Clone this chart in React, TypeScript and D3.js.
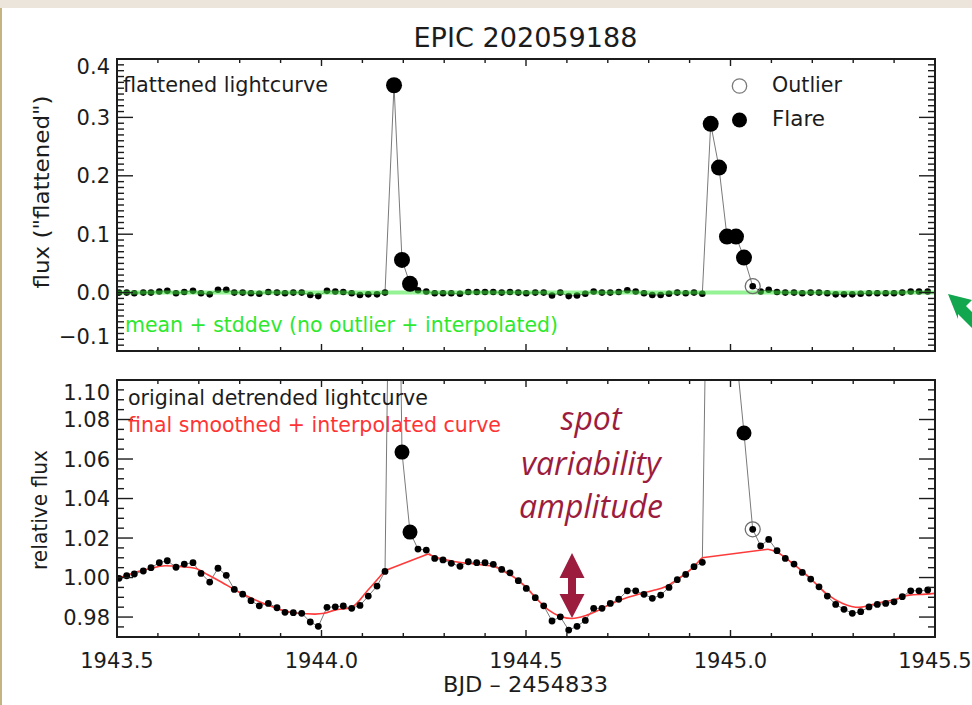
import React from 'react';
import * as d3 from 'd3';

// ---- data ----
const TIME = [
  1943.5049, 1943.5237, 1943.5423, 1943.5643, 1943.5831, 1943.6034, 1943.623, 1943.6443, 1943.6645, 1943.6858,
  1943.7054, 1943.7267, 1943.7469, 1943.7672, 1943.7868, 1943.8073, 1943.8276, 1943.8479, 1943.8699, 1943.8912,
  1943.9108, 1943.9311, 1943.9516, 1943.9726, 1943.9922, 1944.0134, 1944.0337, 1944.0533, 1944.0738, 1944.0941,
  1944.1144, 1944.1357, 1944.1553, 1944.1773, 1944.1968, 1944.2164, 1944.2359, 1944.2562, 1944.2768, 1944.2971,
  1944.3174, 1944.3386, 1944.3589, 1944.3795, 1944.3998, 1944.42, 1944.4406, 1944.4609, 1944.4812, 1944.5007,
  1944.5227, 1944.5433, 1944.5636, 1944.5839, 1944.6044, 1944.6247, 1944.645, 1944.6655, 1944.6858, 1944.7061,
  1944.7267, 1944.7477, 1944.7682, 1944.7885, 1944.8088, 1944.8293, 1944.8496, 1944.8699, 1944.8905, 1944.9108,
  1944.9311, 1944.9516, 1944.9719, 1944.9914, 1945.0134, 1945.033, 1945.0543, 1945.0738, 1945.0934, 1945.1137,
  1945.134, 1945.1553, 1945.1756, 1945.1961, 1945.2164, 1945.2367, 1945.2572, 1945.2775, 1945.2978, 1945.3183,
  1945.3386, 1945.3589, 1945.3795, 1945.3998, 1945.42, 1945.4406, 1945.4609, 1945.4822,
];

const FLUX_REL = [
  0.9996, 1.0009, 1.0018, 1.0033, 1.005, 1.0075, 1.0085, 1.0052, 1.0068, 1.0075,
  1.0021, 0.9977, 1.0047, 1.0011, 0.994, 0.9916, 0.9883, 0.9857, 0.9869, 0.9847,
  0.9824, 0.9822, 0.9819, 0.9775, 0.9753, 0.9849, 0.9852, 0.9856, 0.9844, 0.9859,
  0.9906, 0.9957, 1.0031, 1.36, 1.0635, 1.023, 1.0144, 1.0139, 1.0097, 1.0089,
  1.0072, 1.0057, 1.008, 1.0075, 1.0075, 1.0067, 1.0041, 1.0024, 0.9984, 0.9945,
  0.9898, 0.9857, 0.978, 0.9801, 0.9734, 0.9753, 0.9783, 0.9844, 0.9844, 0.9869,
  0.989, 0.9933, 0.9933, 0.9915, 0.9895, 0.9911, 0.995, 0.9989, 1.0016, 1.0055,
  1.0077, 1.3, 1.23, 1.11, 1.115, 1.0732, 1.0244, 1.016, 1.0193, 1.0136,
  1.0097, 1.0068, 1.0026, 0.9992, 0.9953, 0.9906, 0.9864, 0.9839, 0.9819, 0.9827,
  0.9851, 0.9864, 0.9869, 0.9877, 0.9903, 0.9933, 0.9933, 0.9937,
];

const FLUX_FLAT = [
  0.0, 0.0, -0.001, 0.0, 0.0, 0.002, 0.003, -0.001, 0.001, 0.003,
  -0.001, -0.003, 0.005, 0.005, 0.0, 0.0, -0.001, -0.002, 0.001, 0.0,
  -0.001, 0.0, 0.0, -0.004, -0.006, 0.003, 0.002, 0.001, -0.001, -0.004,
  -0.003, -0.003, 0.0, 0.355, 0.056, 0.015, 0.004, 0.002, -0.001, -0.001,
  -0.001, -0.002, 0.001, 0.001, 0.001, 0.001, 0.0, 0.001, 0.0, -0.001,
  0.0, 0.0, -0.005, 0.0, -0.006, -0.005, -0.002, 0.002, 0.0, 0.0,
  0.001, 0.004, 0.002, -0.001, -0.004, -0.004, -0.002, 0.0, -0.001, 0.0,
  -0.002, 0.289, 0.214, 0.096, 0.096, 0.06, 0.011, 0.002, 0.005, 0.001,
  0.0, 0.0, -0.001, 0.0, 0.0, -0.001, -0.003, -0.003, -0.003, -0.002,
  -0.001, -0.001, -0.001, -0.001, 0.0, 0.002, 0.002, 0.002,
];

const FLARE_IDX = [33, 34, 35, 71, 72, 73, 74, 75];
const OUTLIER_IDX = [76];

const SMOOTH_T = [
  1943.5, 1943.5359, 1943.5765, 1943.6174, 1943.6582, 1943.6907, 1943.7232, 1943.756, 1943.7885, 1943.821,
  1943.8619, 1943.9027, 1943.9433, 1943.9841, 1944.0069, 1944.0323, 1944.0729, 1944.1137, 1944.1545, 1944.2604,
  1944.2768, 1944.3174, 1944.3582, 1944.399, 1944.4235, 1944.4479, 1944.4804, 1944.5049, 1944.5227, 1944.5555,
  1944.58, 1944.6125, 1944.645, 1944.6778, 1944.7103, 1944.7428, 1944.7756, 1944.8081, 1944.8406, 1944.8734,
  1944.9059, 1944.9303, 1945.0917, 1945.1112, 1945.152, 1945.1927, 1945.2335, 1945.2743, 1945.3149, 1945.3557,
  1945.3966, 1945.4372, 1945.478, 1945.5,
];
const SMOOTH_F = [
  0.9994, 1.0021, 1.0043, 1.006, 1.0055, 1.0047, 1.0013, 0.9976, 0.9937, 0.9903,
  0.9866, 0.9835, 0.9819, 0.9815, 0.9819, 0.9835, 0.9849, 0.9937, 1.0034, 1.0119,
  1.0105, 1.0084, 1.0072, 1.0063, 1.0055, 1.0029, 0.9987, 0.9942, 0.99, 0.9835,
  0.9807, 0.9793, 0.9807, 0.9835, 0.9869, 0.9895, 0.9915, 0.9933, 0.9953, 0.9996,
  1.0047, 1.01, 1.0143, 1.0131, 1.0072, 1.0001, 0.992, 0.9869, 0.9849, 0.9869,
  0.9886, 0.9911, 0.9916, 0.992,
];
// knot index ranges of the smoothed curve; between them the curve is a straight interpolation over the flares
const SMOOTH_PIECES = [
  [0, 18],
  [19, 41],
  [42, 53],
];

const X_MAJOR = [1943.5, 1944.0, 1944.5, 1945.0, 1945.5];
const X_LABELS = ['1943.5', '1944.0', '1944.5', '1945.0', '1945.5'];
const YT_MAJOR = [-0.1, 0.0, 0.1, 0.2, 0.3, 0.4];
const YT_LABELS = ['\u22120.1', '0.0', '0.1', '0.2', '0.3', '0.4'];
const YB_MAJOR = [0.98, 1.0, 1.02, 1.04, 1.06, 1.08, 1.1];
const YB_LABELS = ['0.98', '1.00', '1.02', '1.04', '1.06', '1.08', '1.10'];

const SPOT_MIN_T = 1944.6125;
const SPOT_MIN_F = 0.9793;

// ---- layout ----
const W = 972;
const H = 705;
const X0 = 117;
const X1 = 935;
const TOP = { y0: 59, y1: 351 };
const BOT = { y0: 380, y1: 637 };
const FONT = '"DejaVu Sans", Arial, sans-serif';
const INK = '#1c1c1c';

export default function App() {
  const x = d3.scaleLinear().domain([1943.5, 1945.5]).range([X0, X1]);
  const yT = d3.scaleLinear().domain([-0.1, 0.4]).range([TOP.y1, TOP.y0]);
  const yB = d3.scaleLinear().domain([0.9699, 1.1]).range([BOT.y1, BOT.y0]);

  const xMinor = d3.range(0, 21).map((i) => 1943.5 + i * 0.1);
  const ytMinor = d3.range(0, 51).map((i) => -0.1 + i * 0.01);
  const ybMinor = d3.range(0, 27).map((i) => 0.97 + i * 0.005).filter((v) => v <= 1.1001);

  const lineTop = d3.line<number>().x((_, i) => x(TIME[i])).y((v) => yT(v));
  const lineBot = d3.line<number>().x((_, i) => x(TIME[i])).y((v) => yB(v));

  const smoothPts = SMOOTH_T.map((t, i) => [x(t), yB(SMOOTH_F[i])] as [number, number]);
  const smoothCurve = d3.line<[number, number]>().curve(d3.curveMonotoneX);
  const straight = d3.line<[number, number]>();
  const smoothPaths: string[] = [];
  SMOOTH_PIECES.forEach(([a, b], k) => {
    smoothPaths.push(smoothCurve(smoothPts.slice(a, b + 1)) || '');
    if (k < SMOOTH_PIECES.length - 1) {
      const nextA = SMOOTH_PIECES[k + 1][0];
      smoothPaths.push(straight([smoothPts[b], smoothPts[nextA]]) || '');
    }
  });

  const isFlare = (i: number) => FLARE_IDX.includes(i);
  const isOut = (i: number) => OUTLIER_IDX.includes(i);

  const frame = (y0: number, y1: number) => (
    <rect x={X0} y={y0} width={X1 - X0} height={y1 - y0} fill="none" stroke={INK} strokeWidth={2} />
  );

  const xTicks = (y0: number, y1: number, key: string) => (
    <g key={key} stroke={INK} strokeWidth={1.4}>
      {xMinor.map((v, i) => {
        const major = X_MAJOR.some((m) => Math.abs(m - v) < 1e-6);
        const len = major ? 7 : 4;
        const px = x(v);
        return (
          <g key={i}>
            <line x1={px} x2={px} y1={y1} y2={y1 - len} />
            <line x1={px} x2={px} y1={y0} y2={y0 + len} />
          </g>
        );
      })}
    </g>
  );

  const yTicks = (vals: number[], majors: number[], sc: (v: number) => number, key: string) => (
    <g key={key} stroke={INK} strokeWidth={1.4}>
      {vals.map((v, i) => {
        const major = majors.some((m) => Math.abs(m - v) < 1e-6);
        const len = major ? 16 : 7;
        const py = sc(v);
        return (
          <g key={i}>
            <line x1={X0} x2={X0 + len} y1={py} y2={py} />
            <line x1={X1} x2={X1 - len} y1={py} y2={py} />
          </g>
        );
      })}
    </g>
  );

  const crim = '#9c1c3e';
  const ax = x(SPOT_MIN_T);
  const tipY = yB(SPOT_MIN_F) - 0.5;
  const arrowTop = tipY - 65;

  return (
    <svg
      width={W}
      height={H}
      style={{ position: 'absolute', left: 0, top: 0, display: 'block' }}
      fontFamily={FONT}
    >
      <defs>
        <clipPath id="clipTop">
          <rect x={X0} y={TOP.y0} width={X1 - X0} height={TOP.y1 - TOP.y0} />
        </clipPath>
        <clipPath id="clipBot">
          <rect x={X0} y={BOT.y0} width={X1 - X0} height={BOT.y1 - BOT.y0} />
        </clipPath>
      </defs>

      {/* background */}
      <rect x={0} y={0} width={W} height={H} fill="#ffffff" />
      <rect x={0} y={0} width={W} height={8} fill="#ebe5dc" />
      <rect x={0} y={8} width={2} height={H - 8} fill="#c4b482" />

      {/* title */}
      <text x={525.5} y={47} textAnchor="middle" fontSize={27} fill={INK} textLength={224} lengthAdjust="spacingAndGlyphs">
        EPIC 202059188
      </text>

      {/* ---------- top panel ---------- */}
      <g clipPath="url(#clipTop)">
        <path d={lineTop(FLUX_FLAT) || ''} fill="none" stroke="#7a7a7a" strokeWidth={1} />
        {FLUX_FLAT.map((v, i) =>
          isFlare(i) ? null : <circle key={i} cx={x(TIME[i])} cy={yT(v)} r={3.3} fill="#000" />
        )}
        <line x1={X0} x2={X1} y1={yT(0)} y2={yT(0)} stroke="#3ee83e" strokeOpacity={0.55} strokeWidth={4} />
        {FLUX_FLAT.map((v, i) =>
          isFlare(i) ? <circle key={'f' + i} cx={x(TIME[i])} cy={yT(v)} r={8} fill="#000" /> : null
        )}
        {FLUX_FLAT.map((v, i) =>
          isOut(i) ? (
            <circle key={'o' + i} cx={x(TIME[i])} cy={yT(v)} r={7.5} fill="none" stroke="#6e6e6e" strokeWidth={1.3} />
          ) : null
        )}
      </g>
      {frame(TOP.y0, TOP.y1)}
      {xTicks(TOP.y0, TOP.y1, 'xtT')}
      {yTicks(ytMinor, YT_MAJOR, yT, 'ytT')}
      {YT_MAJOR.map((v, i) => {
        const c = Math.min(Math.max(yT(v), TOP.y0 + 7), TOP.y1 - 14.5);
        return (
          <text key={i} x={110} y={c + 7.5} textAnchor="end" fontSize={21} fill={INK}>
            {YT_LABELS[i]}
          </text>
        );
      })}
      <text x={123} y={92} fontSize={21} fill={INK} textLength={205} lengthAdjust="spacingAndGlyphs">
        flattened lightcurve
      </text>
      <text x={125} y={332} fontSize={21} fill="#2ee82e" textLength={433} lengthAdjust="spacingAndGlyphs">
        mean + stddev (no outlier + interpolated)
      </text>
      {/* legend */}
      <circle cx={739.5} cy={86} r={7.2} fill="none" stroke="#7a7a7a" strokeWidth={1.3} />
      <text x={772} y={92} fontSize={21} fill={INK} textLength={70} lengthAdjust="spacingAndGlyphs">
        Outlier
      </text>
      <circle cx={739.5} cy={120} r={7.5} fill="#000" />
      <text x={772} y={126} fontSize={21} fill={INK} textLength={53} lengthAdjust="spacingAndGlyphs">
        Flare
      </text>
      <text
        transform={`translate(49, 192) rotate(-90)`}
        textAnchor="middle"
        fontSize={21}
        fill={INK}
        textLength={193}
        lengthAdjust="spacingAndGlyphs"
      >
        flux ("flattened")
      </text>

      {/* ---------- bottom panel ---------- */}
      <g clipPath="url(#clipBot)">
        <path d={lineBot(FLUX_REL) || ''} fill="none" stroke="#7a7a7a" strokeWidth={1} />
        {smoothPaths.map((d, i) => (
          <path key={'s' + i} d={d} fill="none" stroke="#ff3a3a" strokeWidth={1.6} strokeLinejoin="round" />
        ))}
        {FLUX_REL.map((v, i) => (
          <circle key={i} cx={x(TIME[i])} cy={yB(v)} r={isFlare(i) ? 7.5 : 3.4} fill="#000" />
        ))}
        {FLUX_REL.map((v, i) =>
          isOut(i) ? (
            <circle key={'o' + i} cx={x(TIME[i])} cy={yB(v)} r={7.5} fill="none" stroke="#6e6e6e" strokeWidth={1.3} />
          ) : null
        )}
      </g>
      {frame(BOT.y0, BOT.y1)}
      {xTicks(BOT.y0, BOT.y1, 'xtB')}
      {yTicks(ybMinor, YB_MAJOR, yB, 'ytB')}
      {YB_MAJOR.map((v, i) => {
        const c = Math.min(Math.max(yB(v), BOT.y0 + 12), BOT.y1 - 14);
        return (
          <text key={i} x={110} y={c + 7.5} textAnchor="end" fontSize={21} fill={INK}>
            {YB_LABELS[i]}
          </text>
        );
      })}
      {X_MAJOR.map((v, i) => (
        <text key={i} x={x(v)} y={668} textAnchor="middle" fontSize={21} fill={INK}>
          {X_LABELS[i]}
        </text>
      ))}
      <text x={525.5} y={692} textAnchor="middle" fontSize={21} fill={INK} textLength={165} lengthAdjust="spacingAndGlyphs">
        BJD – 2454833
      </text>
      <text
        transform={`translate(47, 510) rotate(-90)`}
        textAnchor="middle"
        fontSize={21}
        fill={INK}
        textLength={120}
        lengthAdjust="spacingAndGlyphs"
      >
        relative flux
      </text>
      <text x={128} y={405} fontSize={21} fill={INK} textLength={300} lengthAdjust="spacingAndGlyphs">
        original detrended lightcurve
      </text>
      <text x={128} y={432} fontSize={21} fill="#ff3333" textLength={373} lengthAdjust="spacingAndGlyphs">
        final smoothed + interpolated curve
      </text>

      {/* annotation */}
      <g fill={crim} fontFamily='"Open Sans", sans-serif' fontStyle="italic" fontSize={32} textAnchor="middle">
        <text x={591} y={430}>spot</text>
        <text x={591} y={475}>variability</text>
        <text x={591} y={518}>amplitude</text>
      </g>
      <path
        d={`M${ax},${arrowTop} L${ax + 12.5},${arrowTop + 25} L${ax + 4},${arrowTop + 25} L${ax + 4},${arrowTop + 41} L${ax + 12.5},${arrowTop + 41} L${ax},${tipY} L${ax - 12.5},${arrowTop + 41} L${ax - 4},${arrowTop + 41} L${ax - 4},${arrowTop + 25} L${ax - 12.5},${arrowTop + 25} Z`}
        fill={crim}
      />

      {/* green pointer at the right edge */}
      <path d="M948,294 L972,300 L966,306 L990,330 L982,338 L958,314 L958,319 Z" fill="#12a64f" />
    </svg>
  );
}
